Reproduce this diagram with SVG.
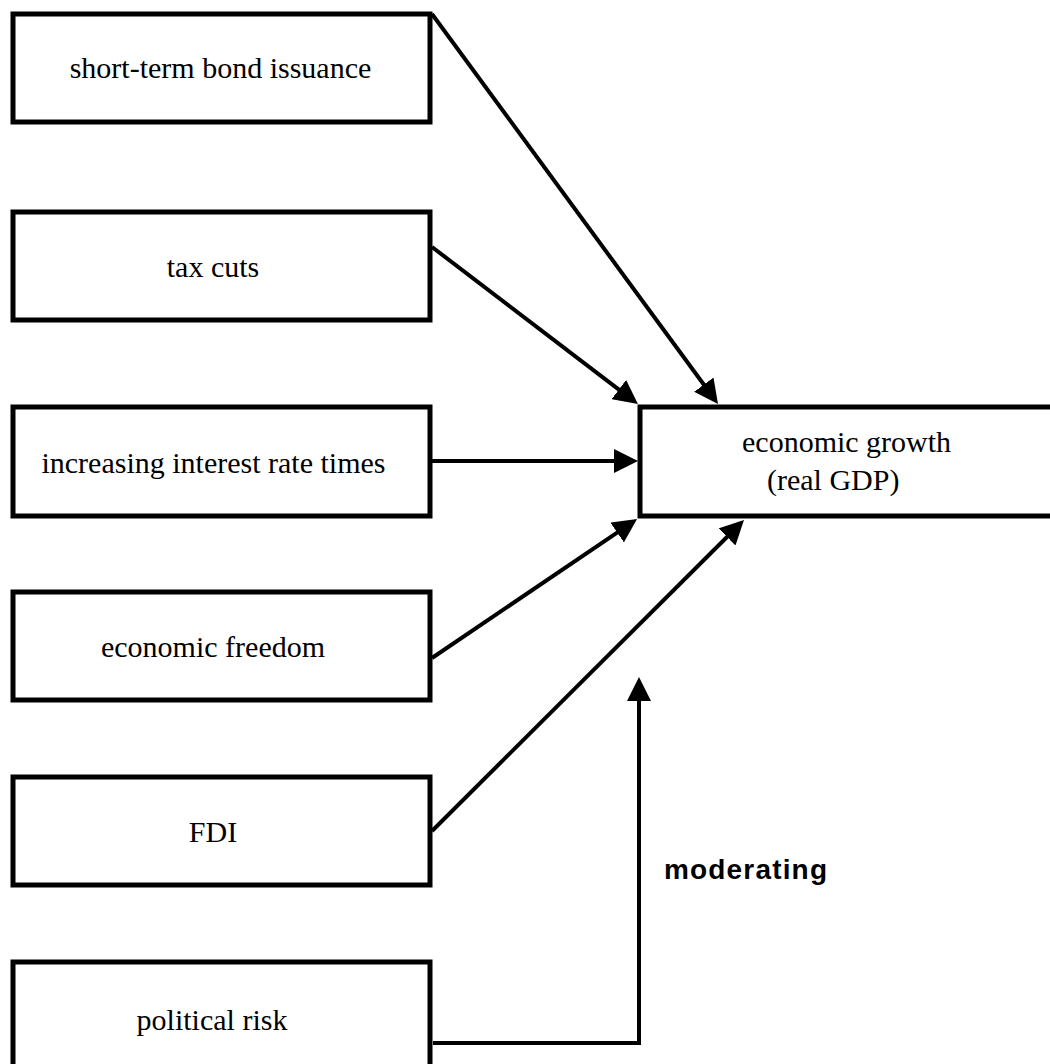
<svg xmlns="http://www.w3.org/2000/svg" width="1050" height="1064" viewBox="0 0 1050 1064">
  <style>
    .box { fill: #ffffff; stroke: #000000; stroke-width: 5; }
    .lbl { font-family: "Liberation Serif", "Times New Roman", serif; font-size: 30px; fill: #000000; }
    .mid { text-anchor: middle; }
    .edge { fill: none; stroke: #000000; stroke-width: 4; }
    .mod { font-family: "Liberation Sans", Arial, Helvetica, sans-serif; font-size: 28px; font-weight: bold; fill: #000000; }
  </style>
  <defs>
    <marker id="arrow" viewBox="0 0 24 24" refX="12" refY="12" markerWidth="24" markerHeight="24" markerUnits="userSpaceOnUse" orient="auto">
      <path d="M0,0 L24,12 L0,24 z" fill="#000000"/>
    </marker>
  </defs>
  <rect width="1050" height="1064" fill="#ffffff"/>

  <g id="n-bond">
    <rect class="box" x="13" y="14" width="417" height="108"/>
    <text class="lbl mid" x="220.5" y="78">short-term bond issuance</text>
  </g>
  <g id="n-tax">
    <rect class="box" x="13" y="212" width="417" height="108"/>
    <text class="lbl mid" x="213" y="277">tax cuts</text>
  </g>
  <g id="n-interest">
    <rect class="box" x="13" y="407" width="417" height="109"/>
    <text class="lbl mid" x="213.5" y="473">increasing interest rate times</text>
  </g>
  <g id="n-freedom">
    <rect class="box" x="13" y="592" width="417" height="108"/>
    <text class="lbl mid" x="213" y="657">economic freedom</text>
  </g>
  <g id="n-fdi">
    <rect class="box" x="13" y="777" width="417" height="108"/>
    <text class="lbl mid" x="213" y="842">FDI</text>
  </g>
  <g id="n-risk">
    <rect class="box" x="13" y="962" width="417" height="130"/>
    <text class="lbl mid" x="212" y="1030">political risk</text>
  </g>
  <g id="n-growth">
    <rect class="box" x="640" y="407" width="430" height="109"/>
    <text class="lbl" x="742" y="452">economic growth</text>
    <text class="lbl" x="767" y="490">(real GDP)</text>
  </g>

  <g id="connectors">
    <line class="edge" x1="432" y1="14" x2="710.9" y2="394.3" marker-end="url(#arrow)"/>
    <line class="edge" x1="432" y1="247" x2="628.4" y2="396.8" marker-end="url(#arrow)"/>
    <line class="edge" x1="432" y1="461" x2="626" y2="461" marker-end="url(#arrow)"/>
    <line class="edge" x1="432" y1="658" x2="627.1" y2="525.8" marker-end="url(#arrow)"/>
    <line class="edge" x1="432" y1="831" x2="735.5" y2="528.5" marker-end="url(#arrow)"/>
    <polyline class="edge" points="433,1043 639,1043 639,689" stroke-width="4.5" marker-end="url(#arrow)"/>
    <text class="mod" x="664" y="879" textLength="163" lengthAdjust="spacing">moderating</text>
  </g>
</svg>
